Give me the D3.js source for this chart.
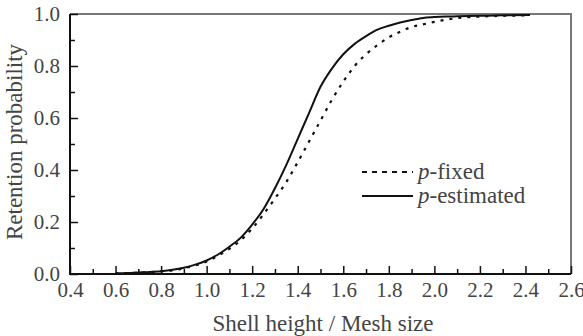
<!DOCTYPE html>
<html>
<head>
<meta charset="utf-8">
<script src="https://cdn.jsdelivr.net/npm/d3@7"></script>
<style>
  body { margin: 0; background: #fff; }
</style>
</head>
<body>
<svg id="chart"></svg>
<script>
/* CONSTANTS AND GLOBALS */
const width = 583,
  height = 336,
  margin = { top: 14, bottom: 62, left: 70, right: 12 };
const serif = "'Liberation Serif', 'Times New Roman', serif";

// data
const ratio = [0.60, 0.65, 0.70, 0.75, 0.80, 0.85, 0.90, 0.95, 1.00, 1.05, 1.10, 1.15, 1.20, 1.25, 1.30, 1.35, 1.40, 1.45, 1.50, 1.55, 1.60, 1.65, 1.70, 1.75, 1.80, 1.85, 1.90, 1.95, 2.00, 2.05, 2.10, 2.20, 2.30, 2.42];
const pEstimated = [0.003, 0.004, 0.006, 0.008, 0.011, 0.016, 0.024, 0.036, 0.052, 0.075, 0.105, 0.14, 0.19, 0.25, 0.33, 0.42, 0.52, 0.62, 0.72, 0.79, 0.845, 0.885, 0.915, 0.94, 0.955, 0.967, 0.977, 0.985, 0.988, 0.990, 0.991, 0.993, 0.995, 0.996];
const pFixed = [0.002, 0.003, 0.005, 0.007, 0.010, 0.014, 0.022, 0.033, 0.048, 0.070, 0.097, 0.13, 0.175, 0.23, 0.29, 0.354, 0.43, 0.51, 0.59, 0.67, 0.74, 0.80, 0.845, 0.88, 0.91, 0.932, 0.95, 0.96, 0.97, 0.978, 0.984, 0.99, 0.993, 0.995];
const xTicks = [0.4, 0.6, 0.8, 1.0, 1.2, 1.4, 1.6, 1.8, 2.0, 2.2, 2.4, 2.6];
const yTicks = [0.0, 0.2, 0.4, 0.6, 0.8, 1.0];
const legendLabels = ["-fixed", "-estimated"];

const svg = d3.select("#chart")
  .attr("width", width)
  .attr("height", height)
  .attr("font-family", serif);

const x = d3.scaleLinear()
  .domain([0.4, 2.6])
  .range([margin.left, width - margin.right]);

const y = d3.scaleLinear()
  .domain([0, 1])
  .range([height - margin.bottom, margin.top]);

// frame: top and right in gray
svg.append("path")
  .attr("d", `M${x(0.4)},${y(1)}H${x(2.6)}V${y(0)}`)
  .attr("fill", "none")
  .attr("stroke", "#777")
  .attr("stroke-width", 2);

// minor ticks
const xMinor = d3.range(0.5, 2.6, 0.2);
const yMinor = d3.range(0.1, 1.0, 0.2);

svg.append("g")
  .attr("transform", `translate(0,${y(0)})`)
  .call(d3.axisBottom(x).tickValues(xMinor).tickSize(-5).tickFormat(""))
  .call(g => g.select(".domain").remove())
  .selectAll("line").attr("stroke", "#111").attr("stroke-width", 1.5);

svg.append("g")
  .attr("transform", `translate(${x(0.4)},0)`)
  .call(d3.axisLeft(y).tickValues(yMinor).tickSize(-5).tickFormat(""))
  .call(g => g.select(".domain").remove())
  .selectAll("line").attr("stroke", "#111").attr("stroke-width", 1.5);

// major ticks + labels
const xAxis = svg.append("g")
  .attr("transform", `translate(0,${y(0)})`)
  .call(d3.axisBottom(x).tickValues(xTicks).tickSize(-8).tickPadding(8).tickFormat(d3.format(".1f")))
  .attr("font-family", serif)
  .attr("font-size", 21);
xAxis.select(".domain").remove();
xAxis.selectAll("line").attr("stroke", "#111").attr("stroke-width", 1.5);
xAxis.selectAll("text").attr("fill", "#444");

const yAxis = svg.append("g")
  .attr("transform", `translate(${x(0.4)},0)`)
  .call(d3.axisLeft(y).tickValues(yTicks).tickSize(-8).tickPadding(10).tickFormat(d3.format(".1f")))
  .attr("font-family", serif)
  .attr("font-size", 21);
yAxis.select(".domain").remove();
yAxis.selectAll("line").attr("stroke", "#111").attr("stroke-width", 1.5);
yAxis.selectAll("text").attr("fill", "#444");

// axis lines left and bottom
svg.append("path")
  .attr("d", `M${x(0.4)},${y(1)}V${y(0)}H${x(2.6)}`)
  .attr("fill", "none")
  .attr("stroke", "#111")
  .attr("stroke-width", 2);

// curves
const line = d3.line()
  .x((d, i) => x(ratio[i]))
  .y(d => y(d))
  .curve(d3.curveMonotoneX);

svg.append("path")
  .datum(pFixed)
  .attr("d", line)
  .attr("fill", "none")
  .attr("stroke", "#111")
  .attr("stroke-width", 2.2)
  .attr("stroke-dasharray", "3,6");

svg.append("path")
  .datum(pEstimated)
  .attr("d", line)
  .attr("fill", "none")
  .attr("stroke", "#111")
  .attr("stroke-width", 2);

// legend
const legend = svg.append("g").attr("transform", "translate(362,172)");
legendLabels.forEach((lab, i) => {
  const row = legend.append("g").attr("transform", `translate(0,${i * 24})`);
  row.append("line")
    .attr("x1", 0).attr("x2", 51)
    .attr("stroke", "#111")
    .attr("stroke-width", 2)
    .attr("stroke-dasharray", i === 0 ? "5,5" : null);
  const t = row.append("text")
    .attr("x", 56)
    .attr("dy", "0.3em")
    .attr("font-size", 23)
    .attr("fill", "#444");
  t.append("tspan").attr("font-style", "italic").text("p");
  t.append("tspan").text(lab);
});

// axis titles
svg.append("text")
  .attr("x", 323)
  .attr("y", 331)
  .attr("text-anchor", "middle")
  .attr("font-size", 23)
  .attr("fill", "#444")
  .text("Shell height / Mesh size");

svg.append("text")
  .attr("transform", `translate(22,142) rotate(-90)`)
  .attr("text-anchor", "middle")
  .attr("font-size", 23)
  .attr("fill", "#444")
  .text("Retention probability");
</script>
</body>
</html>
